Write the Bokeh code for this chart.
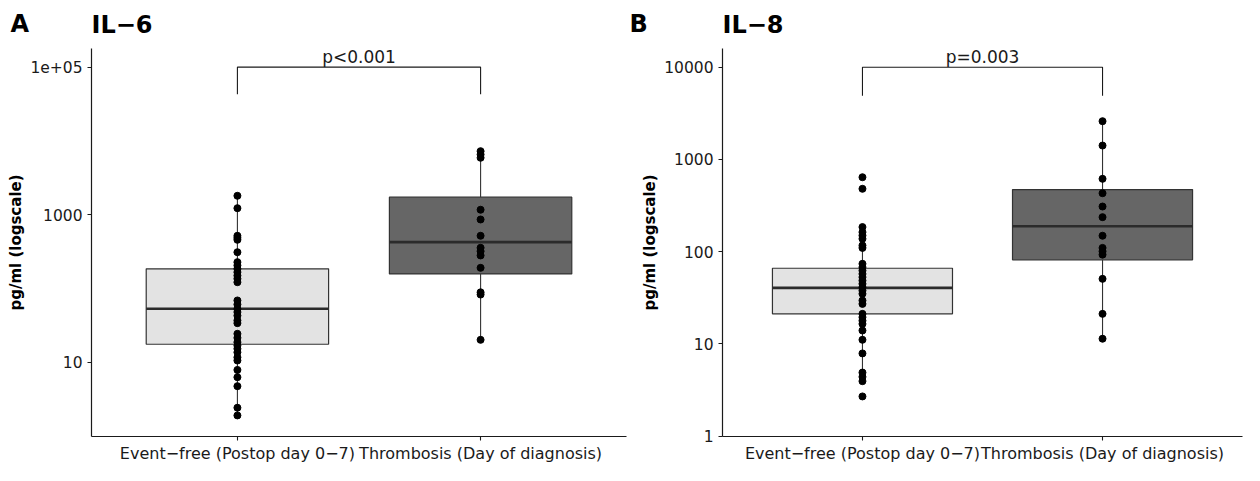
from bokeh.plotting import figure
from bokeh.models import FactorRange, FixedTicker, Label, ColumnDataSource, Range1d
from bokeh.transform import dodge
from bokeh.layouts import row
from bokeh.core.properties import value
from bokeh.embed import file_html
from bokeh.resources import INLINE

FONT = "DejaVu Sans"

categories = ["Event\u2212free (Postop day 0\u22127)", "Thrombosis (Day of diagnosis)"]

# ---- IL-6 (panel A) ----
il6_eventfree = [1808, 1228, 519, 487, 458, 311, 228, 206, 185, 167, 150, 136, 122,
                 69, 61, 53, 48, 43, 37, 34, 24.4, 21.5, 18.8, 16.9, 15.3, 13.7,
                 11.7, 10.6, 7.9, 6.3, 4.76, 2.43, 1.91]
il6_thrombosis = [7270, 6560, 5920, 1170, 863, 519, 357, 321, 281, 191, 89, 83, 20.2]
il6_q1 = [17.6, 158]
il6_median = [53.2, 426]
il6_q3 = [185, 1730]
il6_whisker_lo = [1.91, 20.2]
il6_whisker_hi = [1808, 7270]
il6_ticks = [10, 1000, 100000]
il6_tick_labels = ["10", "1000", "1e+05"]
il6_bracket = [100000, 43000]
il6_p = "p<0.001"

# ---- IL-8 (panel B) ----
il8_eventfree = [642, 481, 185, 163, 150, 138, 117, 110, 74, 68, 62.5, 57.5, 53,
                 48.7, 44.9, 41.2, 37.9, 35, 29.6, 27.2, 21.2, 19.5, 17.9, 16.5, 14,
                 11.1, 7.9, 4.9, 4.4, 3.95, 2.7]
il8_thrombosis = [2600, 1416, 617, 431, 309, 237, 149, 110, 101, 93, 50.8, 21.2, 11.4]
il8_q1 = [21.2, 81.7]
il8_median = [40.6, 189]
il8_q3 = [66.2, 472]
il8_whisker_lo = [3.95, 11.4]
il8_whisker_hi = [185, 2600]
il8_ticks = [1, 10, 100, 1000, 10000]
il8_tick_labels = ["1", "10", "100", "1000", "10000"]
il8_bracket = [10000, 4900]
il8_p = "p=0.003"

box_colors = ["#E3E3E3", "#666666"]

HEIGHT = 465
TOP = 48
BOTTOM = 29


def make_panel(letter, title, g1, g2, q1, med, q3, wlo, whi, ticks, tick_labels,
               bracket, ptext, yr, width, border_left, border_right, letter_x, pad):
    p = figure(width=width, height=HEIGHT,
               x_range=FactorRange(*categories, range_padding=pad,
                                   range_padding_units="absolute"),
               y_axis_type="log", y_range=Range1d(*yr),
               output_backend="svg", toolbar_location=None,
               min_border_left=border_left, min_border_right=border_right,
               min_border_top=TOP, min_border_bottom=BOTTOM, title=title)
    p.title.text_font = FONT
    p.title.text_font_size = "24px"
    p.title.text_font_style = "bold"
    p.title.text_color = "#000000"
    p.title.align = "left"
    p.title.standoff = -36

    # panel letter, placed in the title area
    p.add_layout(Label(x=letter_x - border_left, y=25, x_units="screen",
                       y_units="screen", text=letter, text_font=FONT,
                       text_font_size="24px", text_font_style="bold",
                       text_color="#000000", text_baseline="alphabetic"),
                 "above")

    box = ColumnDataSource(dict(x=categories, q1=q1, med=med, q3=q3,
                                lo=wlo, hi=whi, color=box_colors))
    # whiskers
    p.segment(x0="x", y0="lo", x1="x", y1="q1", source=box,
              line_color="#333333", line_width=1.1)
    p.segment(x0="x", y0="q3", x1="x", y1="hi", source=box,
              line_color="#333333", line_width=1.1)
    # boxes
    p.vbar(x="x", bottom="q1", top="q3", width=0.75, source=box,
           fill_color="color", line_color="#333333", line_width=1.2)
    # medians
    p.segment(x0=dodge("x", -0.375, range=p.x_range), y0="med",
              x1=dodge("x", 0.375, range=p.x_range), y1="med",
              source=box, line_color="#2b2b2b", line_width=2.6)
    # points
    pts = ColumnDataSource(dict(x=[categories[0]] * len(g1) + [categories[1]] * len(g2),
                                y=list(g1) + list(g2)))
    p.scatter(x="x", y="y", source=pts, size=7, fill_color="black",
              line_color="black")

    # significance bracket
    top, leg = bracket
    p.line(x=[categories[0], categories[0], categories[1], categories[1]],
           y=[leg, top, top, leg], line_color="#1a1a1a", line_width=1.1)
    lab = ColumnDataSource(dict(x=[categories[0]], y=[top], t=[ptext]))
    p.text(x=dodge("x", 0.5, range=p.x_range), y="y", text="t", source=lab,
           text_align="center", text_baseline="bottom",
           text_font=value(FONT), text_font_size="17px", text_color="#1a1a1a")

    # axes
    p.xgrid.visible = False
    p.ygrid.visible = False
    p.outline_line_color = None
    for ax in (p.xaxis[0], p.yaxis[0]):
        ax.axis_line_color = "#1a1a1a"
        ax.axis_line_width = 1.2
        ax.major_tick_line_color = "#1a1a1a"
        ax.major_tick_line_width = 1.1
        ax.major_tick_in = 0
        ax.major_tick_out = 4
        ax.minor_tick_line_color = None
        ax.major_label_text_font = FONT
        ax.major_label_text_color = "#1a1a1a"
    p.xaxis.major_label_text_font_size = "16px"
    p.xaxis.major_label_standoff = 3
    p.yaxis.major_label_text_font_size = "15.5px"
    p.yaxis.major_label_standoff = 5
    p.yaxis.ticker = FixedTicker(ticks=ticks)
    p.yaxis.major_label_overrides = {t: l for t, l in zip(ticks, tick_labels)}
    p.yaxis.axis_label = "pg/ml (logscale)"
    p.yaxis.axis_label_text_font = FONT
    p.yaxis.axis_label_text_font_size = "15px"
    p.yaxis.axis_label_text_font_style = "bold"
    p.yaxis.axis_label_text_color = "#000000"
    p.yaxis.axis_label_standoff = 2
    return p


pA = make_panel("A", "IL\u22126", il6_eventfree, il6_thrombosis, il6_q1, il6_median,
                il6_q3, il6_whisker_lo, il6_whisker_hi, il6_ticks, il6_tick_labels,
                il6_bracket, il6_p, (0.99, 179000), 628, 91, 2, 10, 0.1)
pB = make_panel("B", "IL\u22128", il8_eventfree, il8_thrombosis, il8_q1, il8_median,
                il8_q3, il8_whisker_lo, il8_whisker_hi, il8_ticks, il8_tick_labels,
                il8_bracket, il8_p, (0.993, 15960), 616, 94, 2, 1, 0.083)

layout = row(pA, pB)
open("out.html", "w").write(file_html(layout, INLINE))
